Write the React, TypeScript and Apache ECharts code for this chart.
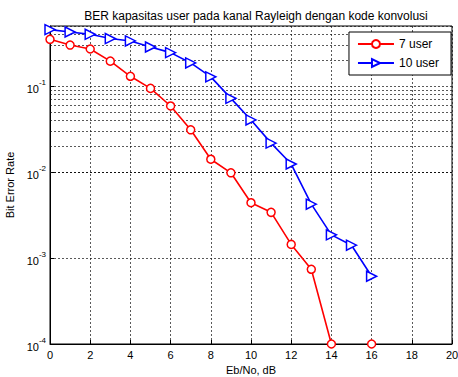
import React, { useEffect, useRef } from "react";
import * as echarts from "echarts";

const ebNo = [0, 1, 2, 3, 4, 5, 6, 7, 8, 9, 10, 11, 12, 13, 14, 15, 16];
const ber7user = [0.35, 0.3, 0.27, 0.195, 0.13, 0.094, 0.0587, 0.031, 0.0141, 0.0098, 0.0044, 0.0034, 0.00144, 0.00074, 0.0001, null, 0.0001];
const ber10user = [0.454, 0.426, 0.4, 0.357, 0.335, 0.285, 0.245, 0.186, 0.128, 0.072, 0.0404, 0.0217, 0.0124, 0.00423, 0.00186, 0.00141, 0.000614];
const minorGrid = [
  2e-4, 3e-4, 4e-4, 5e-4, 6e-4, 7e-4, 8e-4, 9e-4,
  2e-3, 3e-3, 4e-3, 5e-3, 6e-3, 7e-3, 8e-3, 9e-3,
  2e-2, 3e-2, 4e-2, 5e-2, 6e-2, 7e-2, 8e-2, 9e-2,
  0.2, 0.3, 0.4,
];
const titleText = "BER kapasitas user pada kanal Rayleigh dengan kode konvolusi";
const xName = "Eb/No, dB";
const yName = "Bit Error Rate";

const FONT = "Liberation Sans, Arial, sans-serif";

export default function App() {
  const ref = useRef<HTMLDivElement>(null);
  useEffect(() => {
    const chart = echarts.init(ref.current!, null, { renderer: "svg" });
    const gridLine = { color: "#111", width: 0.7, type: [2, 2] as any };
    chart.setOption({
      animation: false,
      backgroundColor: "#fff",
      title: {
        text: titleText,
        left: 251,
        textAlign: "center",
        top: 5,
        textStyle: { fontFamily: FONT, fontSize: 12, fontWeight: "normal", color: "#000" },
      },
      legend: {
        orient: "vertical",
        right: 7,
        top: 32,
        itemWidth: 36,
        itemHeight: 10,
        itemGap: 7,
        padding: [6, 12, 6, 8],
        backgroundColor: "#fff",
        borderColor: "#000",
        borderWidth: 1,
        textStyle: { fontFamily: FONT, fontSize: 12, color: "#000" },
        data: ["7 user", "10 user"],
      },
      grid: {
        left: 50,
        right: 6,
        top: 26,
        bottom: 33,
        outerBoundsMode: "none",
        containLabel: false,
        show: true,
        borderColor: "#000",
        borderWidth: 1,
        backgroundColor: "#fff",
      },
      xAxis: {
        type: "value",
        min: 0,
        max: 20,
        interval: 2,
        name: xName,
        nameLocation: "middle",
        nameGap: 20,
        nameTextStyle: { fontFamily: FONT, fontSize: 11, color: "#000" },
        axisLine: { lineStyle: { color: "#000", width: 1 } },
        axisTick: { inside: true, length: 4, lineStyle: { color: "#000" } },
        axisLabel: { fontFamily: FONT, fontSize: 11, color: "#000", margin: 5 },
        splitLine: { show: true, lineStyle: gridLine },
      },
      yAxis: {
        type: "log",
        logBase: 10,
        min: 1e-4,
        max: 0.5,
        name: yName,
        nameLocation: "middle",
        nameGap: 34,
        nameTextStyle: { fontFamily: FONT, fontSize: 11, color: "#000" },
        axisLine: { show: true, lineStyle: { color: "#000", width: 1 } },
        axisTick: { inside: true, length: 4, lineStyle: { color: "#000" } },
        axisLabel: {
          showMaxLabel: false,
          margin: 4,
          formatter: (v: number) => {
            const e = Math.round(Math.log10(v));
            if (Math.abs(Math.log10(v) - e) > 1e-6) return "";
            return `{b|10}{s|${e}}`;
          },
          rich: {
            b: { fontFamily: FONT, fontSize: 11, color: "#000", verticalAlign: "bottom" },
            s: { fontFamily: FONT, fontSize: 8, color: "#000", verticalAlign: "top", padding: [0, 0, 8, 0] },
          },
        },
        splitLine: { show: true, lineStyle: gridLine },
      },
      series: [
        {
          name: "7 user",
          type: "line",
          data: ebNo.map((x, i) => [x, ber7user[i]]),
          connectNulls: false,
          clip: false,
          symbol: "circle",
          symbolSize: 8,
          showAllSymbol: true,
          lineStyle: { color: "#ff0000", width: 1.6 },
          itemStyle: { color: "#fff", borderColor: "#ff0000", borderWidth: 1.5 },
          color: "#ff0000",
          z: 5,
          markLine: {
            silent: true,
            symbol: "none",
            label: { show: false },
            lineStyle: { color: "#111", width: 0.7, type: [2, 2] },
            emphasis: { disabled: true },
            data: minorGrid.map((v) => ({ yAxis: v })),
            z: 1,
          },
        },
        {
          name: "10 user",
          type: "line",
          data: ebNo.map((x, i) => [x, ber10user[i]]),
          clip: false,
          symbol: "triangle",
          symbolRotate: -90,
          symbolSize: 10,
          showAllSymbol: true,
          lineStyle: { color: "#0000ff", width: 1.6 },
          itemStyle: { color: "#fff", borderColor: "#0000ff", borderWidth: 1.5 },
          color: "#0000ff",
          z: 5,
        },
      ],
    });
    return () => chart.dispose();
  }, []);
  return <div ref={ref} style={{ width: 458, height: 377, position: "absolute", left: 0, top: 0 }} />;
}
